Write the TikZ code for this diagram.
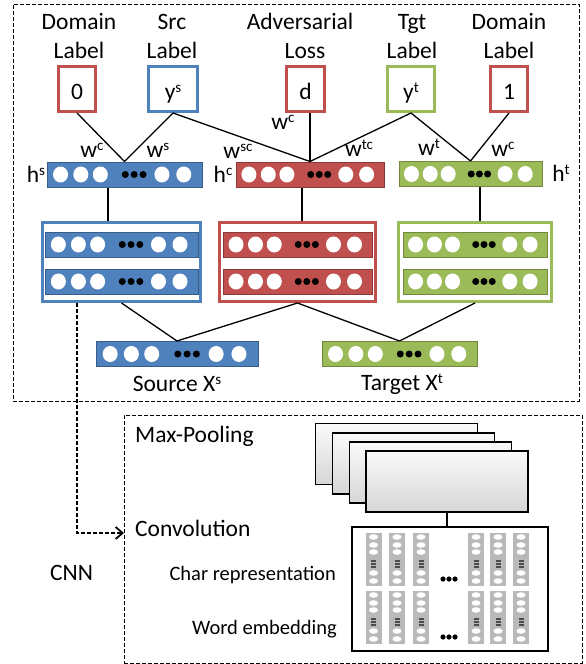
\documentclass[tikz,border=0pt]{standalone}
\usepackage{fontspec}
\setmainfont{Carlito}
\usetikzlibrary{calc,arrows.meta}

\definecolor{blueF}{HTML}{4F81BD}
\definecolor{blueD}{HTML}{385D8A}
\definecolor{redF}{HTML}{C0504D}
\definecolor{redD}{HTML}{8C3836}
\definecolor{greenF}{HTML}{9BBB59}
\definecolor{greenD}{HTML}{71893F}

% raised superscript in the label font
\newcommand{\supr}[1]{\raisebox{7pt}{\fontsize{15}{15}\selectfont #1}}

% a horizontal layer of units: name, centre x, centre y, width, fill, border
\newcommand{\unitbar}[6]{%
  \node[unitrow, fill=#5, draw=#6, minimum width=#4pt] (#1) at (#2,#3) {};
  \foreach \f in {0.09,0.22,0.345,0.74,0.88}
    \fill[white] ($(#1.west)!\f!(#1.east)$) ellipse [x radius=7.5pt, y radius=8pt];
  \foreach \f in {0.505,0.562,0.619}
    \fill[black] ($(#1.west)!\f!(#1.east)$) circle [radius=3.5pt];
}

% a vertical embedding vector: name, centre x, top y
\newcommand{\embcol}[3]{%
  \node[embcolumn] (#1) at (#2,#3+26.5) {};
  \foreach \dy in {4,12,19,40,48}
    \fill[white] (#2,#3+\dy) ellipse [x radius=4.5pt, y radius=2.8pt];
  \foreach \dy in {27.5,30.5,33.5}
    \fill[black!70] (#2-2.5,#3+\dy-1) rectangle (#2+2.5,#3+\dy+1);
}

\begin{document}
\begin{tikzpicture}[x=1pt,y=-1pt,
  every node/.style={inner sep=0pt},
  lbl/.style={font=\fontsize{23.5}{28}\selectfont},
  smalllbl/.style={font=\fontsize{20.5}{24}\selectfont},
  lblbox/.style={rectangle, draw, line width=3pt, fill=white, minimum height=45pt,
    text height=20pt, text depth=0pt, font=\fontsize{23.5}{28}\selectfont},
  container/.style={rectangle, draw, line width=2.8pt, fill=white, minimum height=79.2pt},
  unitrow/.style={rectangle, line width=1pt, minimum height=25pt},
  region/.style={rectangle, draw, line width=1pt, dash pattern=on 4pt off 2pt},
  link/.style={line width=1.3pt},
  fmap/.style={rectangle, draw, line width=1.5pt, minimum width=162pt, minimum height=61pt,
    top color=gray!4, bottom color=gray!32},
  embcolumn/.style={rectangle, fill=gray!55, minimum width=16pt, minimum height=53pt},
  dasharrow/.style={line width=1.5pt, dash pattern=on 4pt off 2pt,
    -{Straight Barb[length=7pt, width=12pt, line width=1.8pt]}},
]
\useasboundingbox (0,0) rectangle (586,664);

% ---------- dashed regions ----------
\node[region, minimum width=566pt, minimum height=397pt] (advbox) at (296,202.5) {};
\node[region, minimum width=458pt, minimum height=248pt] (cnnbox) at (353,539) {};

% ---------- titles ----------
\node[lbl, anchor=base] (tdl1) at (79,29) {Domain};
\node[lbl, anchor=base] (tdl2) at (79,58) {Label};
\node[lbl, anchor=base] (tsl1) at (172,29) {Src};
\node[lbl, anchor=base] (tsl2) at (172,58) {Label};
\node[lbl, anchor=base] (tal1) at (300,29) {Adversarial};
\node[lbl, anchor=base] (tal2) at (305,58) {Loss};
\node[lbl, anchor=base] (ttl1) at (412,29) {Tgt};
\node[lbl, anchor=base] (ttl2) at (412,58) {Label};
\node[lbl, anchor=base] (tdr1) at (509,29) {Domain};
\node[lbl, anchor=base] (tdr2) at (509,58) {Label};

% ---------- label boxes ----------
\node[lblbox, draw=redF,   minimum width=37pt] (b0)  at (77,89)    {0};
\node[lblbox, draw=blueF,  minimum width=49pt] (bys) at (173,89)   {y\supr{s}};
\node[lblbox, draw=redF,   minimum width=38pt] (bd)  at (305.5,89) {d};
\node[lblbox, draw=greenF, minimum width=47pt] (byt) at (411,89)   {y\supr{t}};
\node[lblbox, draw=redF,   minimum width=37pt] (b1)  at (509,89)   {1};

% ---------- shared / private hidden layers ----------
\unitbar{hs}{124.5}{174.5}{155}{blueF}{blueD}
\unitbar{hc}{310}{174.5}{148}{redF}{redD}
\unitbar{ht}{470.5}{174}{143}{greenF}{greenD}

% classifier connections
\draw[link] (b0.south)  -- (hs.north);
\draw[link] (bys.south) -- (hs.north);
\draw[link] (bys.south) -- (hc.north);
\draw[link] (hc.north |- bd.south) -- (hc.north);
\draw[link] (byt.south) -- (hc.north);
\draw[link] (byt.south) -- (ht.north);
\draw[link] (b1.south)  -- (ht.north);

% weight labels
\node[lbl, anchor=base] (ws1) at (92,157)  {w\supr{c}};
\node[lbl, anchor=base] (ws2) at (158,157) {w\supr{s}};
\node[lbl, anchor=base] (ws3) at (238,158) {w\supr{sc}};
\node[lbl, anchor=base] (ws4) at (283,129) {w\supr{c}};
\node[lbl, anchor=base] (ws5) at (359,156) {w\supr{tc}};
\node[lbl, anchor=base] (ws6) at (429,155) {w\supr{t}};
\node[lbl, anchor=base] (ws7) at (503,156) {w\supr{c}};

% layer names
\node[lbl, anchor=base] (nhs) at (36,182)  {h\supr{s}};
\node[lbl, anchor=base] (nhc) at (223,182) {h\supr{c}};
\node[lbl, anchor=base] (nht) at (561,181) {h\supr{t}};

% ---------- encoders ----------
\node[container, draw=blueF,  minimum width=158.2pt] (bb) at (121.5,262) {};
\node[container, draw=redF,   minimum width=156.2pt] (rb) at (297.5,262) {};
\node[container, draw=greenF, minimum width=153.2pt] (gb) at (475,262) {};

\unitbar{bb1}{121.5}{244.5}{153}{blueF}{blueD}
\unitbar{bb2}{121.5}{281.5}{153}{blueF}{blueD}
\unitbar{rb1}{297.5}{244.5}{149}{redF}{redD}
\unitbar{rb2}{297.5}{281.5}{149}{redF}{redD}
\unitbar{gb1}{475}{244.5}{144}{greenF}{greenD}
\unitbar{gb2}{475}{281.5}{144}{greenF}{greenD}

\draw[link] ([xshift=-16.5pt]hs.south) coordinate (hsd) -- (hsd |- bb.north);
\draw[link] ([xshift=-8pt]hc.south) coordinate (hcd) -- (hcd |- rb.north);
\draw[link] ([xshift=9.5pt]ht.south) coordinate (htd) -- (htd |- gb.north);

% ---------- inputs ----------
\unitbar{xs}{177}{354}{162}{blueF}{blueD}
\unitbar{xt}{399.5}{354}{155}{greenF}{greenD}

\draw[link] (bb.south) -- (xs.north);
\draw[link] (rb.south) -- (xs.north);
\draw[link] (rb.south) -- (xt.north);
\draw[link] (gb.south) -- (xt.north);

\node[lbl, anchor=base] (lxs) at (177,391) {Source X\supr{s}};
\node[lbl, anchor=base] (lxt) at (402,390) {Target X\supr{t}};

% ---------- CNN detail ----------
\coordinate (convin) at (124,533);
\draw[dasharrow] ([xshift=-44.5pt]bb.south) |- (convin);

\node[lbl, anchor=base west] (tmax)  at (135,442) {Max-Pooling};
\node[lbl, anchor=base west] (tconv) at (135,536) {Convolution};
\node[lbl, anchor=base west] (tcnn)  at (50,580)  {CNN};
\node[smalllbl, anchor=base east] (tchar) at (336,580) {Char representation};
\node[smalllbl, anchor=base east] (tword) at (337,634) {Word embedding};

% feature maps, back to front
\node[fmap] (fm1) at (396.5,454) {};
\node[fmap] (fm2) at (413.5,463.5) {};
\node[fmap] (fm3) at (430.5,472.5) {};
\node[fmap] (fm4) at (447,481.5) {};

% input matrix
\node[rectangle, draw, line width=1.5pt, fill=white, minimum width=196pt, minimum height=124pt] (emb) at (450,589) {};
\draw[line width=1.3pt] (fm4.south) -- (fm4.south |- emb.north);

\embcol{c11}{373.5}{533}
\embcol{c12}{397}{533}
\embcol{c13}{421}{533}
\embcol{c14}{476}{533}
\embcol{c15}{498}{533}
\embcol{c16}{521}{533}
\embcol{c21}{373.5}{591}
\embcol{c22}{397}{591}
\embcol{c23}{421}{591}
\embcol{c24}{476}{591}
\embcol{c25}{498}{591}
\embcol{c26}{521}{591}

\foreach \xx in {443,449,455} {
  \fill (\xx,579) circle [radius=2.6pt];
  \fill (\xx,637) circle [radius=2.6pt];
}
\end{tikzpicture}
\end{document}
